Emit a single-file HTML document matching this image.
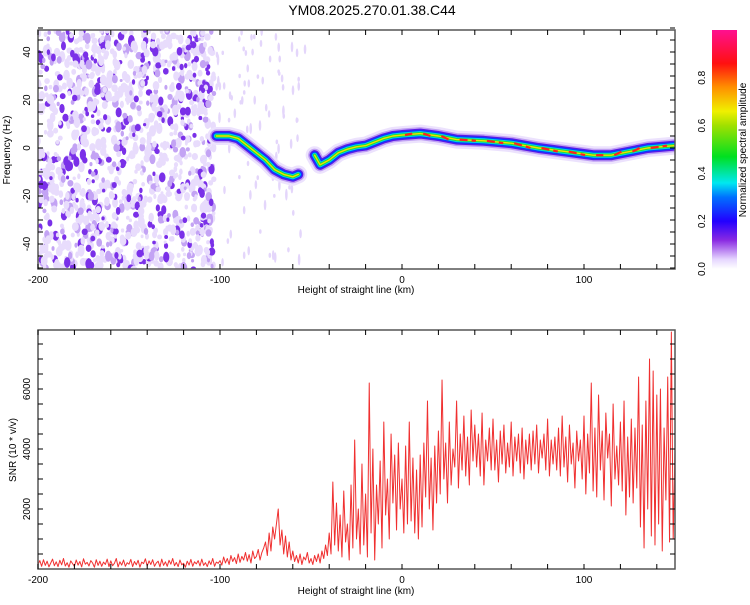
<!DOCTYPE html>
<html><head><meta charset="utf-8"><style>
body{margin:0;background:#fff;width:750px;height:600px;overflow:hidden}
svg text{font-family:"Liberation Sans",sans-serif;fill:#000}
</style></head><body>
<svg id="c" width="750" height="600">
<defs>
<linearGradient id="cg" x1="0" y1="1" x2="0" y2="0">
<stop offset="0" stop-color="#ffffff"/><stop offset="0.04" stop-color="#e6d6ff"/>
<stop offset="0.12" stop-color="#8a2be2"/><stop offset="0.2" stop-color="#2200ff"/>
<stop offset="0.3" stop-color="#0070ff"/><stop offset="0.36" stop-color="#00e8f0"/>
<stop offset="0.47" stop-color="#00e020"/><stop offset="0.6" stop-color="#a0e000"/>
<stop offset="0.66" stop-color="#f0f000"/><stop offset="0.76" stop-color="#ff9000"/>
<stop offset="0.86" stop-color="#ff1010"/><stop offset="1" stop-color="#ff1090"/>
</linearGradient>
<clipPath id="cp1"><rect x="38" y="30" width="637" height="239"/></clipPath>
<clipPath id="cp2"><rect x="38" y="330" width="637" height="239"/></clipPath>
</defs>
<text x="372" y="15" font-size="14" text-anchor="middle">YM08.2025.270.01.38.C44</text>
<g id="topG" clip-path="url(#cp1)"></g>
<g id="botG" clip-path="url(#cp2)"></g>
<g id="axes"></g>
<rect x="712" y="30" width="25" height="239" fill="url(#cg)"/>
<text transform="translate(746,150) rotate(-90)" font-size="10" text-anchor="middle">Normalized spectral amplitude</text>
<text transform="translate(10,150) rotate(-90)" font-size="10" text-anchor="middle">Frequency (Hz)</text>
<text transform="translate(16,450) rotate(-90)" font-size="10" text-anchor="middle">SNR (10 * v/v)</text>
<text x="356" y="293" font-size="10" text-anchor="middle">Height of straight line (km)</text>
<text x="356" y="594" font-size="10" text-anchor="middle">Height of straight line (km)</text>
</svg>
<script>
const ridgeH=[-102,-95,-90,-85,-80,-75,-70,-65,-60,-57];
const ridgeF=[5,5,4,1,-2,-5,-9,-11,-12,-11];
const ridge2H=[-48,-45,-40,-35,-30,-25,-20,-15,-10,-5,0,10,20,30,45,60,75,90,105,115,125,135,150];
const ridge2F=[-3,-7,-5,-2,-0.5,0.5,1,2.5,4,5,5.4,6,5,3.5,3,2,0,-1.5,-3,-3,-1.5,0,1];
const snrStart=-200;
const snr=[150,280,90,310,120,260,70,200,330,110,240,80,290,140,350,100,210,60,270,180,90,300,130,250,70,340,160,220,100,280,200,60,310,120,260,90,230,150,330,80,270,110,190,350,70,240,130,300,90,210,160,320,80,250,140,290,60,230,180,340,100,270,150,310,90,200,260,70,330,120,240,90,290,160,350,110,220,80,300,140,190,60,260,130,320,90,240,170,280,100,330,120,210,80,270,150,350,90,230,190,
280,130,400,200,350,150,450,250,380,180,500,220,420,300,550,260,480,200,600,350,420,650,300,550,700,
900,450,1200,600,1400,1000,1500,2000,800,1300,500,1100,400,900,300,
600,250,450,200,500,150,400,300,550,200,350,150,450,250,500,200,600,350,800,450,
1200,500,2900,800,2200,600,1800,400,2600,900,1500,300,2800,700,4300,1000,2000,500,3500,800,
2500,400,6200,1200,4000,300,2800,1500,3600,700,4900,1800,3000,1000,4500,2200,3800,1300,4200,2000,
3000,1200,4100,1500,4900,1600,3700,1200,3300,1000,3800,1400,4200,2400,5600,2000,3700,1300,4100,2200,
4600,2500,6300,3000,4200,2200,4900,2800,4000,3400,5600,2700,4500,3300,5100,3100,4400,2800,5300,3600,
4800,3400,4500,3100,5200,2800,4300,3600,4700,3300,5000,3300,4300,2900,4600,3500,4800,3200,4200,3400,
4900,3100,4400,3600,4500,3200,4700,3000,4300,3500,4500,3300,4600,3500,4800,3200,4300,3700,4500,3300,
5000,3100,4300,3500,4400,3300,4700,3100,5100,3400,4400,2900,4800,3500,4200,2700,4600,3600,4300,3000,
5100,2500,4500,3200,6200,2600,4700,2400,5800,3300,4600,2300,5200,3700,4500,2100,5500,3000,4100,2800,
4900,2600,5600,1800,4400,2400,5000,2200,4700,2700,6400,1400,4800,700,5600,2000,7000,1100,6600,800,
5800,1500,6000,600,4700,2300,6400,900,7900,1000,4000];
const xTicks=[-200,-100,0,100];
const fTicks=[-40,-20,0,20,40];
const sTicks=[2000,4000,6000];
const cTicks=[0.0,0.2,0.4,0.6,0.8];

const NS='http://www.w3.org/2000/svg';
const X=h=>38+(h+200)*637/350;
const YF=f=>148-f*2.4;
const YS=v=>569-v*0.03;
function mk(t,a,p){const e=document.createElementNS(NS,t);for(const k in a)e.setAttribute(k,a[k]);(p||document.getElementById('c')).appendChild(e);return e;}
const gTop=document.getElementById('topG'),gBot=document.getElementById('botG'),gAx=document.getElementById('axes');

// background noise texture (decorative, seeded)
let seed=12345;const rnd=()=>{seed=(seed*1103515245+12345)%2147483648;return seed/2147483648;};
const tex=mk('g',{},gTop);


for(let i=0;i<1300;i++){const x=38+rnd()*176,y=30+rnd()*240;const r=rnd();
 const col=r<0.6?'#e8dcfc':r<0.8?'#c3a3f4':'#7a30e8';
 const rr=1.5+rnd()*2;
 mk('ellipse',{cx:x,cy:y,rx:rr,ry:rr*(1+rnd()*0.8),fill:col},tex);}
for(let i=0;i<90;i++){const x=216+rnd()*90,y=30+rnd()*240;
 mk('ellipse',{cx:x,cy:y,rx:1.3,ry:2+rnd()*4,fill:'#e4d6fb'},tex);}

function ridge(H,F,name){
 const d=H.map((h,i)=>(i?'L':'M')+X(h)+' '+YF(F[i])).join(' ');
 const layers=[[18,'#ece2fd'],[13,'#c0a0f4'],[10,'#5a18e8'],[7.5,'#0040ff'],[5,'#00d8e8'],[3.2,'#20dd30'],[1.4,'#f0e000']];
 for(const [w,c] of layers){const p=mk('path',{d:d,fill:'none',stroke:c,'stroke-width':w,'stroke-linejoin':'round','stroke-linecap':'round'},gTop);
  
  }
}
ridge(ridgeH,ridgeF,'ridge-west');
ridge(ridge2H,ridge2F,'ridge-east');
for(let i=5;i<ridge2H.length-1;i++){if(ridge2H[i]<0)continue;
 const e=mk('line',{x1:X(ridge2H[i])+3,y1:YF(ridge2F[i]),x2:X(ridge2H[i+1])-8,y2:YF(ridge2F[i+1]),stroke:'#ff2020','stroke-width':2.2,'stroke-dasharray':'8 4'},gTop);
 
 }

const pl=mk('polyline',{points:snr.map((v,i)=>X(snrStart+i)+','+YS(v)).join(' '),fill:'none',stroke:'#f03030','stroke-width':1,'stroke-linejoin':'round'},gBot);



for(const [y0,nm] of [[30,'top-plot-frame'],[330,'bottom-plot-frame']]){
 const r=mk('rect',{x:38,y:y0,width:637,height:239,fill:'none',stroke:'#555','stroke-width':1.5},gAx);
 
 
 for(let h=-200;h<=150;h+=20){const x=X(h);
  mk('line',{x1:x,y1:y0,x2:x,y2:y0+5,stroke:'#000'},gAx);mk('line',{x1:x,y1:y0+239,x2:x,y2:y0+234,stroke:'#000'},gAx);}
 for(const h of xTicks){const t=mk('text',{x:X(h),y:y0+253,'font-size':10,'text-anchor':'middle'},gAx);t.textContent=h;
  
  }
}
for(let f=-50;f<=50;f+=5){const y=YF(f);mk('line',{x1:38,y1:y,x2:43,y2:y,stroke:'#000'},gAx);mk('line',{x1:675,y1:y,x2:670,y2:y,stroke:'#000'},gAx);}
for(const f of fTicks){const t=mk('text',{transform:`translate(30,${YF(f)}) rotate(-90)`,'font-size':10,'text-anchor':'middle'},gAx);t.textContent=f;
 
 }
for(let v=500;v<8000;v+=500){const y=YS(v);mk('line',{x1:38,y1:y,x2:43,y2:y,stroke:'#000'},gAx);mk('line',{x1:675,y1:y,x2:670,y2:y,stroke:'#000'},gAx);}
for(const v of sTicks){const t=mk('text',{transform:`translate(30,${YS(v)}) rotate(-90)`,'font-size':10,'text-anchor':'middle'},gAx);t.textContent=v;
 
 }
for(const c of cTicks){const t=mk('text',{transform:`translate(705,${269-c*239}) rotate(-90)`,'font-size':10,'text-anchor':'middle'},gAx);t.textContent=c.toFixed(1);
 
 }
</script>
</body></html>
